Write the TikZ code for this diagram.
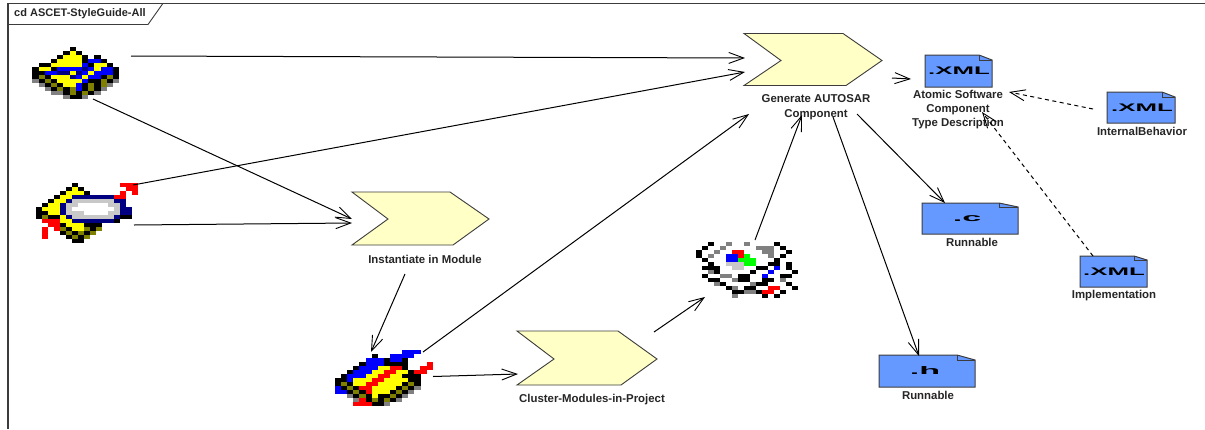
\documentclass[tikz,border=0pt]{standalone}
\usepackage{fontspec}
\usepackage{graphicx}
\setmainfont{Liberation Sans}
\usetikzlibrary{arrows.meta}
\definecolor{pxK}{HTML}{000000}
\definecolor{pxY}{HTML}{FFFF00}
\definecolor{pxB}{HTML}{0000FF}
\definecolor{pxN}{HTML}{000080}
\definecolor{pxO}{HTML}{808000}
\definecolor{pxG}{HTML}{808080}
\definecolor{pxL}{HTML}{C8C8C8}
\definecolor{pxR}{HTML}{FF0000}
\definecolor{pxE}{HTML}{00FF00}
\definecolor{pxW}{HTML}{FFFFFF}
\definecolor{chev}{HTML}{FFFFC6}
\definecolor{edge}{HTML}{3C3C3C}
\definecolor{fileblue}{HTML}{6699FF}
\newcount\pxc
\newcount\pxr
\def\pxcell#1{\ifx#1x\else\fill[color=px#1] ({\pxx+\the\pxc*\pxw},{\pxy+\the\pxr*\pxh}) rectangle ++(\pxw+0.15,\pxh+0.15);\fi\global\advance\pxc by 1 }
\def\pxscan#1{\ifx#1\relax\else\pxcell{#1}\expandafter\pxscan\fi}
\newcommand{\pxart}[5]{\def\pxx{#1}\def\pxy{#2}\def\pxw{#3}\def\pxh{#4}\global\pxr=0
  \foreach \rowtxt in {#5}{\global\pxc=0 \expandafter\pxscan\rowtxt\relax\global\advance\pxr by 1 }}
\newcommand{\mychev}[9]{% name l t r-top tipx tipy b r-bottom notch
  \fill[chev] (#2,#3)--(#4,#3)--(#5,#6)--(#8,#7)--(#2,#7)--(#9,#6)--cycle;
  \draw[edge,line width=0.9pt] (#2,#3)--(#4,#3)--(#5,#6)--(#8,#7)--(#2,#7)--(#9,#6)--cycle;}
\newcommand{\myfile}[6]{% l t r b foldx foldy
  \fill[fileblue] (#1,#2)--(#5,#2)--(#3,#6)--(#3,#4)--(#1,#4)--cycle;
  \draw[edge,line width=1pt] (#1,#2)--(#5,#2)--(#3,#6)--(#3,#4)--(#1,#4)--cycle;
  \draw[edge,line width=0.8pt] (#5,#2)--(#5,#6)--(#3,#6);}
\tikzset{
  x=1pt,y=-1pt,
  lbl/.style={font=\fontsize{11.4}{14.4}\selectfont\bfseries,text=black!85,align=center,inner sep=0pt},
  ftxt/.style={font=\fontsize{11}{11}\selectfont\bfseries,text=black,inner sep=0pt},
  anchorbox/.style={inner sep=0pt,minimum size=10pt},
  conn/.style={draw=black,line width=1pt,-{Straight Barb[length=15pt,width=11pt,line width=0.9pt]}},
  dep/.style={conn,dash pattern=on 4pt off 3.5pt}
}
\begin{document}
\begin{tikzpicture}
\useasboundingbox (0,0) rectangle (1205,429);
\fill[white] (0,0) rectangle (1205,429);
% frame
\draw[edge,line width=1.2pt] (1205,3.7)--(8,3.7)--(8,429);
\draw[edge,line width=0.9pt] (8,24.5)--(148,24.5)--(162.5,4);
\node[lbl,anchor=west,font=\fontsize{11}{12}\selectfont\bfseries] (title) at (14,13.5) {cd ASCET-StyleGuide-All};
% chevrons
\mychev{g}{744}{33.5}{843}{882}{60.5}{85.5}{846}{781}
\mychev{c}{352}{192}{450}{489}{219}{245}{453}{388}
\mychev{e}{517}{331}{618}{657}{359}{385}{621}{554}
% files
\myfile{925}{55}{992}{87}{979}{60}
\myfile{1107}{92}{1175}{123}{1162}{97}
\myfile{922}{203}{1018}{234}{999}{207}
\myfile{1080}{256}{1147}{287}{1134}{260}
\myfile{879}{355}{975}{387}{957}{360}
\node[ftxt] (hname) at (959,71) {\scalebox{2.35}[1]{.XML}};
\node[ftxt] (iname) at (1142,108) {\scalebox{2.35}[1]{.XML}};
\node[ftxt] (kname) at (967,219) {\scalebox{3.1}[1]{.c}};
\node[ftxt] (jname) at (1114,272) {\scalebox{2.35}[1]{.XML}};
\node[ftxt] (lname) at (925,371) {\scalebox{3.1}[1]{.h}};
% pixel icons
\pxart{32.3}{47}{6.2}{4}{%
xxxxxxKxxxxxxx,%
xxxxxKYKxxxxxx,%
xxxxKYYYKxKxxx,%
xxxKYYYYKBBKxx,%
xKKYYYYYBKYYKx,%
KYYKBBBBNBYBBK,%
KKBBNNYNBYBBBK,%
KOKYYYNBYBBKOK,%
GKOKYYYYBKKOKG,%
xGKOKYYBKOKOGx,%
xxGKOKOBKOKGxx,%
xxxGGKOKOKGxxx,%
xxxxxGKKGxxxxx}
\pxart{36}{182.5}{6}{4.05}{%
xxxxxxKxxxxxxxRRR,%
xxxxxKYKxxxxxxxRR,%
xxxxKYYYKxxxxxRxR,%
xxxKYYNNNNNNNRRxx,%
xxKYYNLLLLLLLNNxx,%
xKYYNLLWWWWWLLNxx,%
KYYYNLWWWWWWWLNNx,%
KKYYNLLLWWWWLLNNx,%
KOKKYNLLLLLLLNKKx,%
xRRRYYNNNNNNNKxxx,%
xxRRKYYYKKKxxxxxx,%
xRxROKYYOKOxxxxxx,%
xRxxKOKOKOxxxxxxx,%
xRxxxKOKOxxxxxxxx,%
xxxxxxKKxxxxxxxxx}
\pxart{335}{350}{6.1}{4}{%
xxxxxxxxxxxBBBxxxx,%
xxxxxxKxxBBBBxxxxx,%
xxxxxBBBKBBKxxxxxx,%
xxxxKBBBKKKKxxxR,%
xxxKBBBYYRRKxxRR,%
xxKBBBYYRRYYKRR,%
xKBBBYYRRYYKKK,%
KKBYYYRRYYYYKK,%
KOKYYRRYYYYKOK,%
BKOKRRYYYYKOKG,%
BBKOKRYYYKOKG,%
xxGKOKYKKOKG,%
xxxGRKOKOKG,%
xxxRRRKKG}
\pxart{696}{242}{6}{4}{%
xxKxxGxxGxxxxKxxx,%
xKxxGxxxxxGGGxKxx,%
KxxGxxRRxxxGGxxKx,%
KxGxxBBRExxxGxKxx,%
xKxxxBBEEExxxKxxx,%
xxKxxLLLEExxKKxKx,%
xKKKxxLLxxKKxBxKx,%
xxGKxxxxxKxxBxxxK,%
xKxxGGxKKxxBxxKKx,%
xxKKxxGKKxxKKxGxx,%
xxxGKxxxxGKKxxxKx,%
xxxxxKGxKKxxRRxxK,%
xxxxxxKKGGKRRxKxx,%
xxxxxxGxxxxKxKxxx}
% named invisible anchors over the pictures
\node[anchorbox] (a) at (75,72) {};
\node[anchorbox] (b) at (85,208) {};
\node[anchorbox] (c) at (420,218) {};
\node[anchorbox] (d) at (385,378) {};
\node[anchorbox] (e) at (587,358) {};
\node[anchorbox] (f) at (747,285) {};
\node[anchorbox] (g) at (813,60) {};
\node[anchorbox] (h) at (958,71) {};
\node[anchorbox] (i) at (1141,107) {};
\node[anchorbox] (j) at (1114,271) {};
\node[anchorbox] (k) at (970,218) {};
\node[anchorbox] (l) at (927,371) {};
% labels
\node[lbl] (gl) at (816,107) {Generate AUTOSAR\\Component};
\node[lbl] (cl) at (425,259.5) {Instantiate in Module};
\node[lbl] (el) at (592,399.5) {Cluster-Modules-in-Project};
\node[lbl] (hl) at (958,109.5) {Atomic Software\\Component\\Type Description};
\node[lbl] (il) at (1142,131.5) {InternalBehavior};
\node[lbl] (kl) at (972,242.5) {Runnable};
\node[lbl] (jl) at (1114,295.5) {Implementation};
\node[lbl] (ll) at (928,395.5) {Runnable};
% connectors
\draw[conn] ([shift={(56,-16)}]a.center) -- ([shift={(-68,-2)}]g.center);
\draw[conn] ([shift={(48,-23)}]b.center) -- ([shift={(-68,12)}]g.center);
\draw[conn] ([shift={(18,27)}]a.center) -- ([shift={(-68,1)}]c.center);
\draw[conn] ([shift={(49,17)}]b.center) -- ([shift={(-68,5)}]c.center);
\draw[conn] ([shift={(-15,56)}]c.center) -- ([shift={(-14,-26)}]d.center);
\draw[conn] ([shift={(38,-26)}]d.center) -- ([shift={(-64,54)}]g.center);
\draw[conn] ([shift={(48,-1.5)}]d.center) -- ([shift={(-69,16)}]e.center);
\draw[conn] ([shift={(67,-26)}]e.center) -- ([shift={(-42,12)}]f.center);
\draw[conn] ([shift={(8,-45)}]f.center) -- ([shift={(-11,55)}]g.center);
\draw[conn] ([shift={(20,57)}]g.center) -- ([shift={(-8,-15)}]l.center);
\draw[conn] ([shift={(44,54)}]g.center) -- ([shift={(-25,-15)}]k.center);
\draw[conn] ([shift={(79,18)}]g.center) -- ([shift={(-47,8)}]h.center);
\draw[dep] ([shift={(-48,2)}]i.center) -- ([shift={(51,21)}]h.center);
\draw[dep] ([shift={(-21,-15)}]j.center) -- ([shift={(24,41)}]h.center);
\end{tikzpicture}
\end{document}
